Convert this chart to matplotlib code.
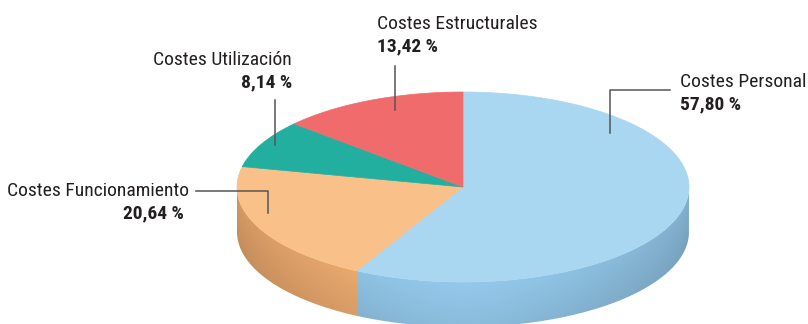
import numpy as np
import matplotlib.pyplot as plt
from matplotlib.patches import Polygon
from matplotlib.path import Path
from matplotlib.colors import to_rgb

labels = ["Costes Personal", "Costes Funcionamiento", "Costes Utilización", "Costes Estructurales"]
values = [57.80, 20.64, 8.14, 13.42]
value_text = ["57,80 %", "20,64 %", "8,14 %", "13,42 %"]
top_colors = ["#A9D6F0", "#FAC08A", "#22AFA0", "#F06C6C"]
side_colors = ["#94C9EB", "#F4B073", "#1C968A", "#D85A5A"]

plt.rcParams["font.family"] = ["Roboto Condensed", "DejaVu Sans"]

W, H = 808, 324
fig = plt.figure(figsize=(W / 100, H / 100), dpi=100)
ax = fig.add_axes([0, 0, 1, 1])
ax.set_xlim(0, W)
ax.set_ylim(H, 0)
ax.axis("off")

# ellipse of the top face (pixel units) and wall depth
cx, cy, a, b, depth = 463, 187, 226, 95, 45

fracs = np.array(values) / sum(values)
bounds = 90 - 360 * np.concatenate([[0], np.cumsum(fracs)])  # clockwise from top


def pt(t_deg):
    t = np.radians(t_deg)
    return cx + a * np.cos(t), cy - b * np.sin(t)


def slice_index(t_deg):
    # angle travelled clockwise from the start
    travelled = (90 - t_deg) % 360
    return np.searchsorted(np.cumsum(fracs) * 360, travelled, side="right").clip(0, len(values) - 1)


# side wall: shaded image clipped to the front half of the cylinder
ts = np.linspace(-180, 0, 361)
top_edge = [pt(t) for t in ts]
bottom_edge = [(x, y + depth) for x, y in top_edge][::-1]
wall = Path(top_edge + bottom_edge + [top_edge[0]])

xs = np.arange(cx - a - 2, cx + a + 3)
ys = np.arange(cy - 2, cy + b + depth + 3)
X, Y = np.meshgrid(xs, ys)
ct = np.clip((X - cx) / a, -1, 1)
T = -np.degrees(np.arccos(ct))
idx = slice_index(T)
base = np.array([to_rgb(c) for c in side_colors])[idx]
# darker towards the outer edges and towards the bottom
y_top = cy + b * np.sqrt(1 - ct ** 2)
v = np.clip((Y - y_top) / depth, 0, 1)
shade = 1.0 - 0.13 * np.abs(ct) ** 1.5 - 0.07 * v
img = np.clip(base * shade[..., None], 0, 1)
im = ax.imshow(img, extent=(xs[0] - 0.5, xs[-1] + 0.5, ys[-1] + 0.5, ys[0] - 0.5),
               interpolation="bilinear", zorder=1)
im.set_clip_path(wall, transform=ax.transData)

# top face sectors
for i in range(len(values)):
    t = np.linspace(bounds[i], bounds[i + 1], 200)
    pts = [(cx, cy)] + [pt(tt) for tt in t]
    ax.add_patch(Polygon(pts, closed=True, facecolor=top_colors[i], edgecolor=top_colors[i],
                         lw=0.5, zorder=2))

line_kw = dict(color="#555555", lw=1.1, zorder=3)
name_kw = dict(fontsize=14, color="#231f20")
val_kw = dict(fontsize=14, color="#231f20", fontweight="bold")

# Costes Personal
ax.plot([610, 610, 670], [133, 90, 90], **line_kw)
ax.text(680, 82, labels[0], ha="left", va="center", **name_kw)
ax.text(680, 104, value_text[0], ha="left", va="center", **val_kw)

# Costes Estructurales
ax.plot([395, 395], [66, 110], **line_kw)
ax.text(377, 24, labels[3], ha="left", va="center", **name_kw)
ax.text(377, 46, value_text[3], ha="left", va="center", **val_kw)

# Costes Utilización
ax.plot([275, 275], [100, 145], **line_kw)
ax.text(292, 60, labels[2], ha="right", va="center", **name_kw)
ax.text(292, 82, value_text[2], ha="right", va="center", **val_kw)

# Costes Funcionamiento
ax.plot([196, 268, 268], [191, 191, 213], **line_kw)
ax.text(189, 191, labels[1], ha="right", va="center", **name_kw)
ax.text(184, 213, value_text[1], ha="right", va="center", **val_kw)

fig.savefig("out.png", dpi=100, facecolor="white")
